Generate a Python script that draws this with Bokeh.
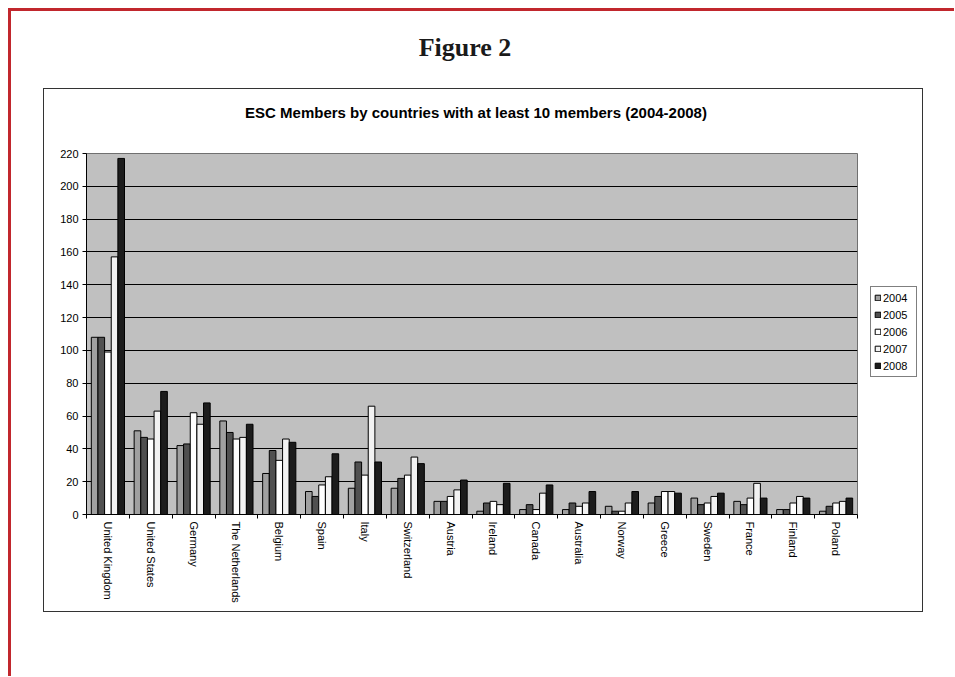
from bokeh.plotting import figure
from bokeh.models import Range1d, FixedTicker, Legend, LegendItem, ColumnDataSource, Div
from bokeh.layouts import column, row
from bokeh.embed import file_html
from bokeh.resources import INLINE

countries = ["United Kingdom", "United States", "Germany", "The Netherlands", "Belgium",
             "Spain", "Italy", "Switzerland", "Austria", "Ireland", "Canada", "Australia",
             "Norway", "Greece", "Sweden", "France", "Finland", "Poland"]
years = ["2004", "2005", "2006", "2007", "2008"]
v2004 = [108, 51, 42, 57, 25, 14, 16, 16, 8, 2, 3, 3, 5, 7, 10, 8, 3, 2]
v2005 = [108, 47, 43, 50, 39, 11, 32, 22, 8, 7, 6, 7, 2, 11, 6, 6, 3, 5]
v2006 = [99, 46, 62, 46, 33, 18, 24, 24, 11, 8, 3, 5, 2, 14, 7, 10, 7, 7]
v2007 = [157, 63, 55, 47, 46, 23, 66, 35, 15, 6, 13, 7, 7, 14, 11, 19, 11, 8]
v2008 = [217, 75, 68, 55, 44, 37, 32, 31, 21, 19, 18, 14, 14, 13, 13, 10, 10, 10]
y_ticks = [0, 20, 40, 60, 80, 100, 120, 140, 160, 180, 200, 220]

series = [v2004, v2005, v2006, v2007, v2008]
colors = ["#a0a0a0", "#505050", "#ffffff", "#f2f2f2", "#1c1c1c"]

FONT = "Liberation Sans"
n = len(countries)
centers = [i + 0.5 for i in range(n)]
bounds = list(range(n + 1))

bw = 0.155
offsets = [-2 * bw, -bw, 0, bw, 2 * bw]

# ---- main chart ----
p = figure(x_range=Range1d(0, n), y_range=Range1d(0, 220),
           width=825, height=468, output_backend="svg", toolbar_location=None,
           min_border_left=42, min_border_right=12, min_border_top=10, min_border_bottom=97)
p.background_fill_color = "#c0c0c0"
p.border_fill_color = "white"
p.outline_line_color = "#707070"
p.outline_line_width = 1

for yr, vals, col, off in zip(years, series, colors, offsets):
    src = ColumnDataSource(dict(x=[c + off for c in centers], top=vals))
    p.vbar(x="x", top="top", width=bw, source=src,
           fill_color=col, line_color="black", line_width=1)

# y axis
p.yaxis.ticker = FixedTicker(ticks=y_ticks)
p.yaxis.major_tick_in = 0
p.yaxis.major_tick_out = 4
p.yaxis.minor_tick_line_color = None
p.yaxis.axis_line_color = "black"
p.yaxis.major_tick_line_color = "black"
p.yaxis.major_label_text_font = FONT
p.yaxis.major_label_text_font_size = "11px"
p.yaxis.major_label_text_color = "black"
p.yaxis.major_label_standoff = 4
p.ygrid.grid_line_color = "black"
p.ygrid.grid_line_width = 1
p.ygrid.ticker = FixedTicker(ticks=y_ticks)
p.xgrid.grid_line_color = None

# x axis: labels at category centres, small ticks at category boundaries
p.xaxis.ticker = FixedTicker(ticks=centers, minor_ticks=bounds)
p.xaxis.major_label_overrides = {c: name for c, name in zip(centers, countries)}
p.xaxis.major_label_orientation = "vertical"
p.xaxis.major_tick_line_color = None
p.xaxis.major_tick_in = 0
p.xaxis.major_tick_out = 4
p.xaxis.minor_tick_in = 0
p.xaxis.minor_tick_out = 4
p.xaxis.minor_tick_line_color = "black"
p.xaxis.axis_line_color = "black"
p.xaxis.major_label_standoff = 3
p.xaxis.major_label_text_font = FONT
p.xaxis.major_label_text_font_size = "11px"
p.xaxis.major_label_text_color = "black"

# ---- legend panel (separate small figure to the right of the plot area) ----
lf = figure(x_range=Range1d(0, 1), y_range=Range1d(0, 1), width=53, height=468,
            output_backend="svg", toolbar_location=None,
            x_axis_location=None, y_axis_location=None, min_border=0)
lf.outline_line_color = None
lf.background_fill_color = "white"
lf.border_fill_color = "white"
lf.xgrid.grid_line_color = None
lf.ygrid.grid_line_color = None
items = []
for yr, col in zip(years, colors):
    # hidden helper renderer that only supplies the legend swatch
    r = lf.vbar(x=[0.5], top=[0], width=0.1, fill_color=col, line_color="black",
                line_width=1, visible=False)
    items.append(LegendItem(label=yr, renderers=[r]))
legend = Legend(items=items, location=(1, 137), orientation="vertical",
                border_line_color="black", border_line_width=1,
                background_fill_color="white", background_fill_alpha=1,
                inactive_fill_alpha=0,
                label_text_font=FONT, label_text_font_size="11px", label_text_color="black",
                glyph_width=7, glyph_height=7, label_standoff=2, label_width=30,
                padding=3, spacing=2, label_height=15, margin=0)
lf.add_layout(legend, "center")

chart_title = Div(text="ESC Members by countries with at least 10 members (2004-2008)",
                  width=878, height=54, margin=0,
                  styles={"font-family": "'Liberation Sans', Arial, sans-serif",
                          "font-weight": "bold", "font-size": "15px", "color": "black",
                          "text-align": "center", "line-height": "18px", "padding-top": "15px",
                          "box-sizing": "border-box", "padding-right": "14px"})

box = column(chart_title, row(p, lf, margin=0), width=880, height=524, margin=(0, 0, 0, 32),
             styles={"border": "1px solid #333333", "box-sizing": "border-box"})

header = Div(text="Figure 2", width=936, height=77, margin=0,
             styles={"font-family": "'Liberation Serif', 'Times New Roman', serif",
                     "font-weight": "bold", "font-size": "26px", "color": "#1a1a1a",
                     "text-align": "center", "line-height": "26px", "padding-top": "24px",
                     "box-sizing": "border-box", "padding-right": "28px"})

page = column(header, box, width=946, height=668, margin=(8, 0, 0, 8),
              styles={"border-top": "3px solid #c1272d", "border-left": "3px solid #c1272d",
                      "box-sizing": "border-box"})

open("out.html", "w").write(file_html(page, INLINE))
